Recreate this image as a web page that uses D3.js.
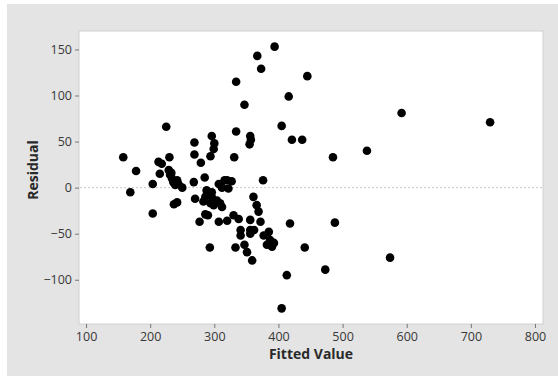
<!DOCTYPE html>
<html>
<head>
<meta charset="utf-8">
<script src="https://cdn.jsdelivr.net/npm/d3@7"></script>
<style>
  body { margin: 0; background: #fff; }
  .axis text { font-family: "Open Sans", sans-serif; font-size: 12.5px; fill: #383838; }
  .axis line { stroke: #777; }
  .axis path { display: none; }
  .title { font-family: "Open Sans", sans-serif; font-weight: bold; font-size: 14px; fill: #2a2a2a; }
</style>
</head>
<body>
<div id="chart"></div>
<script>
// fitted values and residuals
const fitted = [
  394, 367, 373, 334, 445, 347, 416, 405, 421, 437, 485, 538, 592, 730, 334, 376,
  158, 178, 225, 230, 213, 218, 215, 204, 229, 231, 234, 236, 242, 239, 250, 244, 233,
  269, 269, 279, 285, 268, 296, 300, 299, 294, 331, 356, 357, 355,
  307, 316, 320, 327, 322, 312,
  169, 204, 237, 242, 270, 286, 288, 291, 296, 283, 294, 299, 309, 312, 304, 296,
  286, 290, 277, 307, 320, 330, 338,
  293, 333, 341, 341, 347, 351, 356, 362, 356, 359, 356, 372,
  361, 366, 369, 377, 385, 387, 382, 393, 390,
  413, 418, 488, 441, 473, 574, 405
];
const residual = [
  153, 143, 129, 115, 121, 90, 99, 67, 52, 52, 33, 40, 81, 71, 61, 8,
  33, 18, 66, 33, 28, 26, 15, 4, 19, 14, 10, 6, 8, 3, 0, 4, 16,
  49, 36, 27, 11, 6, 56, 48, 42, 34, 33, 56, 52, 47,
  4, 8, 8, 7, -1, 0,
  -5, -28, -18, -16, -12, -10, -3, -8, -5, -15, -17, -19, -17, -21, -14, -10,
  -29, -30, -37, -37, -36, -30, -34,
  -65, -65, -46, -52, -62, -70, -50, -46, -46, -79, -35, -37,
  -10, -19, -26, -52, -48, -57, -62, -60, -64,
  -95, -39, -38, -65, -89, -76, -131
];
const xTicks = [100, 200, 300, 400, 500, 600, 700, 800];
const yTicks = [-100, -50, 0, 50, 100, 150];

const width = 558, height = 376;
const plot = { left: 79, right: 543, top: 31, bottom: 324 };

const svg = d3.select("#chart").append("svg")
  .attr("width", width)
  .attr("height", height);

svg.append("rect")
  .attr("x", 7).attr("y", 4)
  .attr("width", width - 7).attr("height", height - 4)
  .attr("fill", "#e4e4e4");

svg.append("rect")
  .attr("x", plot.left).attr("y", plot.top)
  .attr("width", plot.right - plot.left)
  .attr("height", plot.bottom - plot.top)
  .attr("fill", "#fff")
  .attr("stroke", "#d0d0d0");

let x = d3.scaleLinear().domain([89, 812.5]).range([plot.left, plot.right]);
let y = d3.scaleLinear().domain([-148, 170]).range([plot.bottom, plot.top]);

svg.append("g")
  .attr("class", "x-axis axis")
  .attr("transform", "translate(0," + plot.bottom + ")")
  .call(d3.axisBottom(x).tickValues(xTicks).tickSizeInner(4).tickSizeOuter(0).tickPadding(4));

svg.append("g")
  .attr("class", "y-axis axis")
  .attr("transform", "translate(" + plot.left + ",0)")
  .call(d3.axisLeft(y).tickValues(yTicks).tickSizeInner(4).tickSizeOuter(0).tickPadding(3));

// reference line at zero
svg.append("line")
  .attr("x1", plot.left + 1).attr("x2", plot.right - 1)
  .attr("y1", y(0)).attr("y2", y(0))
  .attr("stroke", "#c8c8c8")
  .attr("stroke-dasharray", "2,2");

const pts = fitted.map((f, i) => ({ f: f, r: residual[i] }));

svg.append("g")
  .selectAll("circle")
  .data(pts)
  .enter()
  .append("circle")
  .attr("cx", d => x(d.f))
  .attr("cy", d => y(d.r))
  .attr("r", 4.3)
  .attr("fill", "#000");

svg.append("text")
  .attr("class", "title")
  .attr("x", (plot.left + plot.right) / 2)
  .attr("y", 359)
  .attr("text-anchor", "middle")
  .text("Fitted Value");

svg.append("text")
  .attr("class", "title")
  .attr("transform", "translate(38,170) rotate(-90)")
  .attr("text-anchor", "middle")
  .text("Residual");
</script>
</body>
</html>
